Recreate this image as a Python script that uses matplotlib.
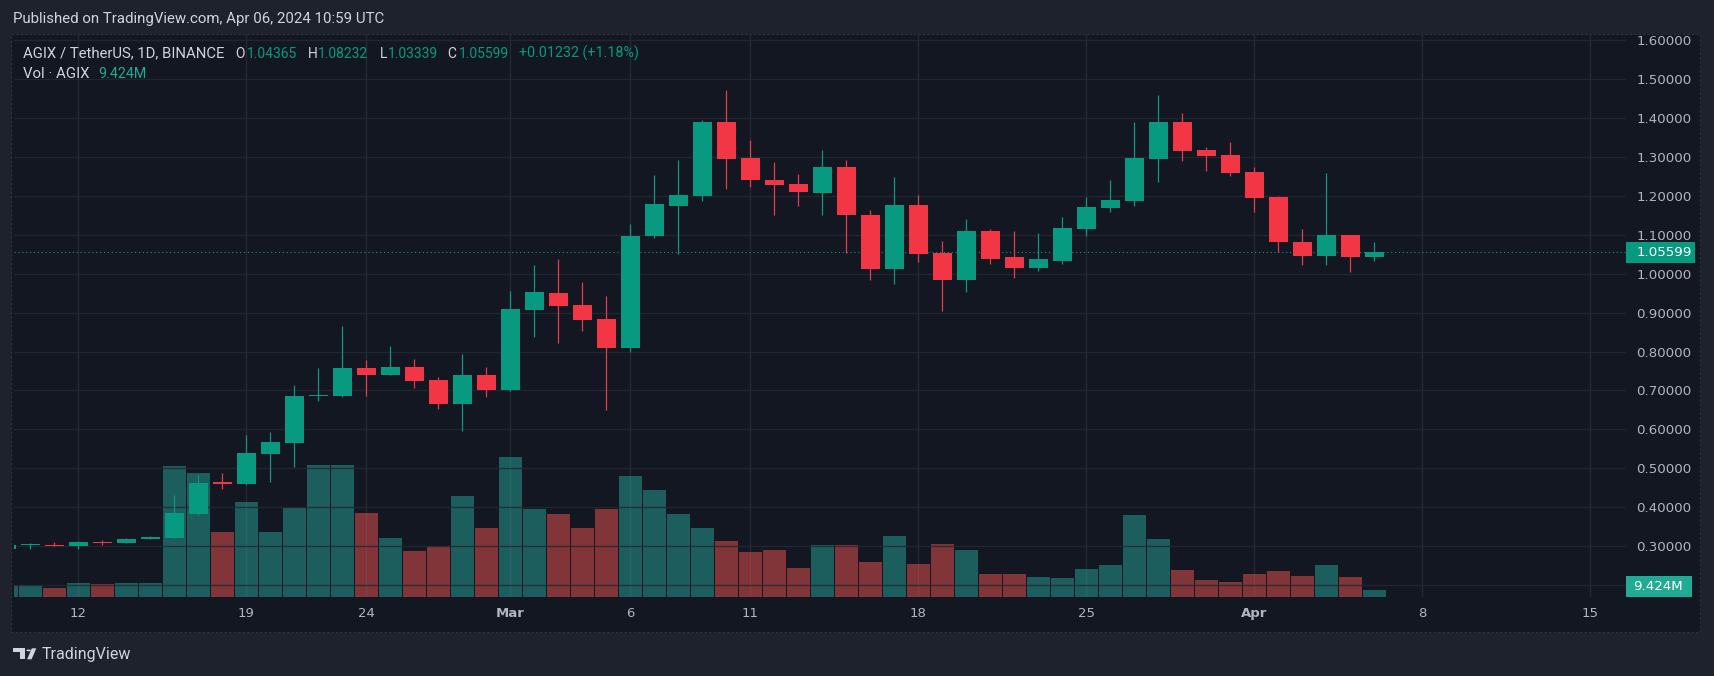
import numpy as np
import pandas as pd
import matplotlib
matplotlib.use('Agg')
import matplotlib.pyplot as plt
import matplotlib.dates as mdates
from matplotlib.patches import Rectangle, Polygon, Circle

'''
AGIX / TetherUS daily candles with volume, TradingView dark style
'''

dates = pd.date_range('2024-02-09', '2024-04-06', freq='D')

opens = [0.2915, 0.3026, 0.3034, 0.2991, 0.3111, 0.3068, 0.3171, 0.3214, 0.3829, 0.4650,
         0.4581, 0.5368, 0.5658, 0.686, 0.685, 0.757, 0.739, 0.760, 0.726, 0.664, 0.739,
         0.700, 0.906, 0.950, 0.919, 0.883, 0.809, 1.096, 1.175, 1.201, 1.391,
         1.298, 1.242, 1.232, 1.209, 1.275, 1.152, 1.011, 1.178, 1.053, 0.983,
         1.109, 1.042, 1.016, 1.034, 1.116, 1.170, 1.186, 1.296, 1.391, 1.319, 1.306,
         1.263, 1.198, 1.083, 1.045, 1.100, 1.04365]
highs = [0.306, 0.3085, 0.3111, 0.3137, 0.3154, 0.3214, 0.3265, 0.4316, 0.4829, 0.4880,
         0.5855, 0.5932, 0.713, 0.757, 0.865, 0.777, 0.813, 0.780, 0.734, 0.793, 0.760,
         0.955, 1.022, 1.037, 0.980, 0.942, 1.129, 1.255, 1.293, 1.395, 1.473,
         1.345, 1.288, 1.257, 1.319, 1.293, 1.163, 1.249, 1.203, 1.085, 1.142,
         1.116, 1.111, 1.106, 1.147, 1.198, 1.240, 1.391, 1.459, 1.414, 1.326, 1.339,
         1.275, 1.201, 1.116, 1.260, 1.101, 1.08232]
lows = [0.289, 0.2932, 0.2991, 0.2932, 0.3017, 0.3068, 0.3171, 0.3205, 0.3786, 0.4453,
        0.4575, 0.4650, 0.5034, 0.673, 0.683, 0.685, 0.739, 0.705, 0.651, 0.595, 0.682,
        0.699, 0.837, 0.821, 0.852, 0.650, 0.799, 1.091, 1.051, 1.187, 1.218,
        1.222, 1.150, 1.175, 1.152, 1.053, 0.983, 0.973, 1.031, 0.903, 0.952,
        1.024, 0.988, 1.006, 1.024, 1.098, 1.158, 1.175, 1.237, 1.291, 1.265, 1.252,
        1.158, 1.056, 1.022, 1.022, 1.005, 1.03339]
closes = [0.3034, 0.3043, 0.2991, 0.3111, 0.3068, 0.3188, 0.3239, 0.3855, 0.4624, 0.4581,
          0.5393, 0.5675, 0.6855, 0.688, 0.757, 0.739, 0.760, 0.723, 0.664, 0.739, 0.700,
          0.909, 0.952, 0.917, 0.880, 0.809, 1.098, 1.180, 1.203, 1.391, 1.296,
          1.240, 1.229, 1.210, 1.275, 1.150, 1.011, 1.178, 1.050, 0.983, 1.109,
          1.039, 1.016, 1.037, 1.119, 1.173, 1.190, 1.298, 1.391, 1.316, 1.303, 1.260,
          1.195, 1.081, 1.045, 1.101, 1.04367, 1.05599]
# volume in millions of AGIX
volumes = [16.5, 16.5, 12.2, 19.3, 17.9, 19.3, 19.3, 179, 170, 89,
           130, 89, 121.5, 180.4, 180.4, 115, 80.5, 63, 69.7, 138, 95,
           192, 121, 113, 95, 121, 166, 147, 113, 94, 77,
           62, 64, 39, 71, 71, 48.5, 84, 45, 72, 64,
           32, 32, 27, 25.4, 37.7, 43.3, 111.6, 80, 36.3, 22.6, 21.2,
           32, 34.9, 28.3, 43.3, 27.8, 9.424]

tick_dates = ['2024-02-12', '2024-02-19', '2024-02-24', '2024-03-01', '2024-03-06', '2024-03-11',
              '2024-03-18', '2024-03-25', '2024-04-01', '2024-04-08', '2024-04-15']
tick_labels = ['12', '19', '24', 'Mar', '6', '11', '18', '25', 'Apr', '8', '15']
price_ticks = [0.2, 0.3, 0.4, 0.5, 0.6, 0.7, 0.8, 0.9, 1.0, 1.1, 1.2, 1.3, 1.4, 1.5, 1.6]

#-----------------------------------------------------------------------
W, H = 1714, 676
def fx(px):
    return px / W
def fy(py):
    return 1 - py / H

BG_OUT = '#1e222d'
BG_PANE = '#131722'
GRID = '#242833'
TXT = '#d1d4dc'
AXTXT = '#b2b5be'
UP, DOWN = '#089981', '#f23645'
VUP, VDOWN = '#26a69a', '#ef5350'

o, h, l, c = map(np.array, (opens, highs, lows, closes))
x = mdates.date2num(dates)
up = c >= o
ccol = np.where(up, UP, DOWN)
vcol = np.where(up, VUP, VDOWN)

fig = plt.figure(figsize=(W / 100, H / 100), dpi=100, facecolor=BG_OUT)
fig.add_artist(Rectangle((fx(11), fy(631.6)), fx(1700) - fx(11), fy(33.6) - fy(631.6),
                         transform=fig.transFigure, facecolor=BG_PANE, edgecolor='#2f3340',
                         linestyle=(0, (2, 2)), lw=0.8, zorder=0))

axv = fig.add_axes([fx(13.8), fy(597), fx(1626) - fx(13.8), fy(33.6) - fy(597)])
axv.patch.set_visible(False)
ax = axv.twinx()

# volume
axv.bar(x, volumes, width=0.94, color=vcol, alpha=0.5, lw=0, zorder=2)
axv.set_ylim(0, 770.7)
axv.set_yticks([])
mar1 = mdates.date2num(pd.Timestamp('2024-03-01'))
axv.set_xlim(mar1 - 20.69, mar1 + 46.49)
axv.set_xticks(mdates.date2num(pd.to_datetime(tick_dates)), tick_labels)
axv.tick_params(axis='x', length=0, pad=7.3, labelsize=9.5, labelcolor=AXTXT)
for lab in axv.get_xticklabels():
    if lab.get_text() in ('Mar', 'Apr'):
        lab.set_fontweight('bold')
axv.grid(axis='x', color=GRID, lw=1)
axv.set_axisbelow(True)

# candles
ax.vlines(x, l, h, colors=ccol, lw=0.9, zorder=3)
body = np.maximum(np.abs(c - o), 0.0026)
ax.bar(x, body, bottom=np.minimum(o, c), width=0.79, color=ccol, lw=0, zorder=4)
ax.axhline(closes[-1], color=UP, lw=0.8, ls=(0, (1, 2.5)), zorder=2)

ax.set_ylim(0.1687, 1.6177)
ax.set_yticks(price_ticks, [''] + ['%.5f' % v for v in price_ticks[1:]])
ax.tick_params(axis='y', length=0, pad=7.6, labelsize=9.6, labelcolor=AXTXT)
ax.grid(axis='y', color=GRID, lw=1, alpha=0.85)
for a in (ax, axv):
    for s in a.spines.values():
        s.set_visible(False)

# last price and volume labels on the price scale
fig.add_artist(Rectangle((fx(1626), fy(262.7)), fx(1695) - fx(1626), fy(242) - fy(262.7),
                         transform=fig.transFigure, facecolor=UP, lw=0, zorder=5))
fig.text(fx(1636.5), fy(252.5), '%.5f' % closes[-1], color='#ffffff', fontsize=9.6,
         va='center', ha='left', zorder=6)
fig.add_artist(Rectangle((fx(1626), fy(597)), fx(1691.7) - fx(1626), fy(576.4) - fy(597),
                         transform=fig.transFigure, facecolor='#22ab94', lw=0, zorder=5))
fig.text(fx(1633), fy(586.7), '%.3fM' % volumes[-1], color='#ffffff', fontsize=9.6,
         va='center', ha='left', zorder=6)

# header texts
hf = 'Roboto'
chg = closes[-1] - closes[-2]
fig.text(fx(13.4), fy(19.5), 'Published on TradingView.com, Apr 06, 2024 10:59 UTC',
         color=TXT, fontsize=10.8, family=hf, va='center')
pieces = [(23.2, 'AGIX / TetherUS, 1D, BINANCE', TXT, 10.75),
          (235.3, 'O', TXT, 10), (246.9, '%.5f' % opens[-1], UP, 10),
          (308.0, 'H', TXT, 10), (317.8, '%.5f' % highs[-1], UP, 10),
          (379.4, 'L', TXT, 10), (387.5, '%.5f' % lows[-1], UP, 10),
          (447.7, 'C', TXT, 10), (458.5, '%.5f' % closes[-1], UP, 10),
          (519.2, '+%.5f (+%.2f%%)' % (chg, 100 * chg / closes[-2]), UP, 10.3)]
for px, s, col, fs in pieces:
    fig.text(fx(px), fy(53.5), s, color=col, fontsize=fs, family=hf, va='center')
fig.text(fx(23.2), fy(74), 'Vol \u00b7 AGIX', color=TXT, fontsize=10.8, family=hf, va='center')
fig.text(fx(98.2), fy(74), '%.3fM' % volumes[-1], color='#22ab94', fontsize=10.3, family=hf,
         va='center')

# footer logo
lc = TXT
fig.add_artist(Rectangle((fx(13.3), fy(652)), fx(25) - fx(13.3), fy(648.3) - fy(652),
                         transform=fig.transFigure, facecolor=lc, lw=0))
fig.add_artist(Rectangle((fx(19.8), fy(659.3)), fx(25) - fx(19.8), fy(648.3) - fy(659.3),
                         transform=fig.transFigure, facecolor=lc, lw=0))
fig.add_artist(Polygon([(fx(31.8), fy(648.3)), (fx(36.3), fy(648.3)), (fx(31.6), fy(659.3)),
                        (fx(27.1), fy(659.3))], closed=True, transform=fig.transFigure,
                       facecolor=lc, lw=0))
fig.add_artist(Circle((fx(28.6), fy(650.4)), 2.3 / W, transform=fig.transFigure,
                      facecolor=lc, lw=0))
fig.text(fx(42), fy(654), 'TradingView', color=lc, fontsize=11.5, family=hf, va='center')

plt.savefig('out.png', dpi=100, facecolor=BG_OUT)
